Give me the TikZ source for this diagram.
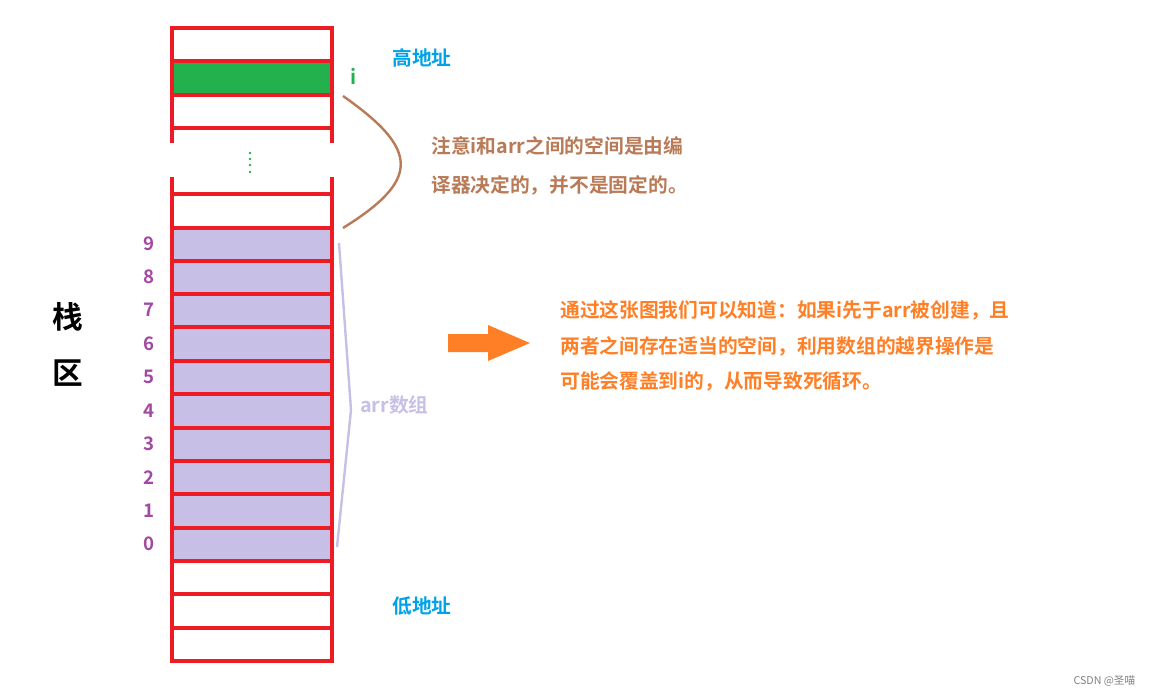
\documentclass[tikz,border=0pt]{standalone}
\usepackage{fontspec}
\setmainfont{Noto Sans CJK SC}[BoldFont={Noto Sans CJK SC Bold}]
\usetikzlibrary{positioning}
\definecolor{cellred}{RGB}{237,28,36}
\definecolor{igreen}{RGB}{34,177,76}
\definecolor{lav}{RGB}{200,191,231}
\definecolor{addrblue}{RGB}{0,162,232}
\definecolor{noteb}{RGB}{185,122,87}
\definecolor{noteo}{RGB}{255,127,39}
\definecolor{idxp}{RGB}{163,73,164}
\tikzset{
  cell/.style={draw=cellred, line width=2.4pt},
  txt/.style={font=\bfseries\fontsize{14.8}{29}\selectfont, inner sep=0pt, align=left},
  idx/.style={font=\bfseries\fontsize{14}{16}\selectfont, text=idxp, inner sep=0pt}
}
\begin{document}
\begin{tikzpicture}[x=0.75pt, y=-0.75pt]
  \useasboundingbox (0,0) rectangle (1154,696);
  % top cells
  \fill[igreen] (172,61) rectangle (332,95);
  \draw[cell] (172,143) -- (172,28) -- (332,28) -- (332,143);
  \draw[cell] (172,61) -- (332,61) (172,95) -- (332,95) (172,128) -- (332,128);
  \foreach \d in {153,159,165,172}
    \fill[igreen] (250,\d) circle (1.4);
  % array cells
  \fill[lav] (172,228) rectangle (332,561);
  \draw[cell] (172,177) -- (172,661) -- (332,661) -- (332,177);
  \foreach \y in {194,228,261,294,327,361,394,428,461,494,528,561,594,628}
    \draw[cell] (172,\y) -- (332,\y);
  \foreach \k in {0,...,9}
    \node[idx] (n\k) at (149,{544-33.4*\k}) {\k};
  % labels
  \node[text=igreen, font=\bfseries\fontsize{15}{16}\selectfont] (i) at (354,76) {i};
  \node[txt, text=addrblue] (high) at (422,58) {高地址};
  \node[txt, text=addrblue] (low) at (422,606) {低地址};
  \node[font=\bfseries\fontsize{23}{42}\selectfont, align=center] (stack) at (68,344) {栈\\区};
  % brown brace and note
  \draw[noteb, line width=1.8pt] (343,96) .. controls (420,150) and (420,180) .. (343,228);
  \node[txt, text=noteb, anchor=west] (note) at (431,166) {注意i和arr之间的空间是由编\\译器决定的，并不是固定的。};
  % lavender brace
  \draw[lav, line width=1.8pt] (339,243) -- (351,410) -- (337,547);
  \node[txt, text=lav, anchor=west] (arr) at (360,405) {arr数组};
  % arrow and conclusion
  \fill[noteo] (448,334) -- (488,334) -- (488,325) -- (530,343) -- (488,361) -- (488,352) -- (448,352) -- cycle;
  \node[txt, text=noteo, anchor=west, font=\bfseries\fontsize{14.8}{26.6}\selectfont] (concl) at (560,346)
    {通过这张图我们可以知道：如果i先于arr被创建，且\\两者之间存在适当的空间，利用数组的越界操作是\\可能会覆盖到i的，从而导致死循环。};
  \node[text=gray, font=\fontsize{8}{10}\selectfont, anchor=east] (mark) at (1140,681) {CSDN @圣喵};
\end{tikzpicture}
\end{document}
